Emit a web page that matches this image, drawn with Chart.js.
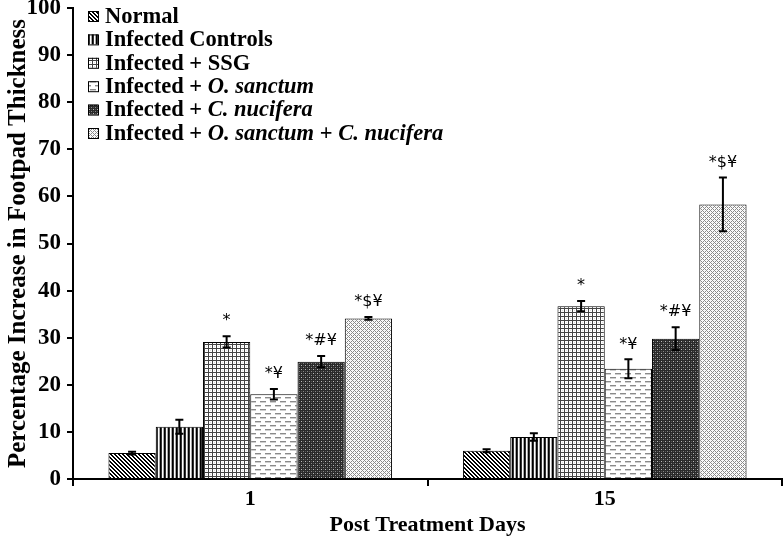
<!DOCTYPE html>
<html>
<head>
<meta charset="utf-8">
<script src="https://cdn.jsdelivr.net/npm/chart.js@4.4.1/dist/chart.umd.min.js"></script>
<style>
  html, body { margin: 0; padding: 0; background: #fff; }
  #wrap { width: 784px; height: 544px; }
</style>
</head>
<body>
<div id="wrap"><canvas id="chart1" width="784" height="544"></canvas></div>
<script>
// post treatment days
const days = ['1', '15'];

const seriesNames = [
  'Normal',
  'Infected Controls',
  'Infected + SSG',
  'Infected + O. sanctum',
  'Infected + C. nucifera',
  'Infected + O. sanctum + C. nucifera'
];

// mean % increase in footpad thickness
const normal = [5.5, 6.0];
const infectedControls = [11.1, 8.9];
const infectedSSG = [29.1, 36.7];
const infectedOS = [18.0, 23.4];
const infectedCN = [24.9, 29.8];
const infectedOSCN = [34.1, 58.3];

// error bars (+/-)
const normalErr = [0.3, 0.3];
const infectedControlsErr = [1.5, 0.8];
const infectedSSGErr = [1.2, 1.1];
const infectedOSErr = [1.1, 2.0];
const infectedCNErr = [1.2, 2.4];
const infectedOSCNErr = [0.3, 5.7];

// significance marks
const normalMarks = ['', ''];
const infectedControlsMarks = ['', ''];
const infectedSSGMarks = ['*', '*'];
const infectedOSMarks = ['*¥', '*¥'];
const infectedCNMarks = ['*#¥', '*#¥'];
const infectedOSCNMarks = ['*$¥', '*$¥'];

const yTicks = { min: 0, max: 100, step: 10 };

// ---- fill patterns ----
function makePattern(w, h, draw) {
  const c = document.createElement('canvas');
  c.width = w; c.height = h;
  const g = c.getContext('2d');
  g.fillStyle = '#fff';
  g.fillRect(0, 0, w, h);
  draw(g, w, h);
  return document.getElementById('chart1').getContext('2d').createPattern(c, 'repeat');
}
function px(g, x, y, col) { g.fillStyle = col; g.fillRect(x, y, 1, 1); }

const patterns = [
  // diagonal "\" stripes
  makePattern(4, 4, (g) => {
    for (let y = 0; y < 4; y++) for (let x = 0; x < 4; x++) {
      const d = ((x - y) % 4 + 4) % 4;
      if (d < 2) px(g, x, y, '#000');
    }
  }),
  // vertical stripes
  makePattern(4, 1, (g) => {
    px(g, 0, 0, '#000'); px(g, 1, 0, '#333'); px(g, 2, 0, '#fff'); px(g, 3, 0, '#aaa');
  }),
  // small grid
  makePattern(4, 4, (g) => {
    g.fillStyle = '#444';
    g.fillRect(0, 0, 4, 1);
    g.fillRect(0, 0, 1, 4);
    px(g, 2, 2, '#ddd');
  }),
  // light dashed horizontal
  makePattern(10, 8, (g) => {
    g.fillStyle = '#8a8a8a';
    g.fillRect(0, 1, 6, 1);
    g.fillRect(5, 5, 5, 1);
    g.fillRect(0, 5, 1, 1);
    g.fillStyle = '#d0d0d0';
    g.fillRect(0, 2, 6, 1);
    g.fillRect(5, 6, 5, 1);
    g.fillRect(0, 6, 1, 1);
  }),
  // dark dense checker
  makePattern(4, 4, (g) => {
    g.fillStyle = '#2a2a2a';
    g.fillRect(0, 0, 4, 4);
    px(g, 1, 1, '#bbb'); px(g, 3, 3, '#888'); px(g, 3, 1, '#555'); px(g, 1, 3, '#555');
  }),
  // light diagonal crosshatch
  makePattern(4, 4, (g) => {
    for (let y = 0; y < 4; y++) for (let x = 0; x < 4; x++) {
      if ((x + y) % 4 === 0 || ((x - y) % 4 + 4) % 4 === 0) px(g, x, y, '#8a8a8a');
      else if ((x + y) % 2 === 0) px(g, x, y, '#f2f2f2');
    }
  })
];

const values = [normal, infectedControls, infectedSSG, infectedOS, infectedCN, infectedOSCN];
const errs = [normalErr, infectedControlsErr, infectedSSGErr, infectedOSErr, infectedCNErr, infectedOSCNErr];
const marks = [normalMarks, infectedControlsMarks, infectedSSGMarks, infectedOSMarks, infectedCNMarks, infectedOSCNMarks];

const datasets = seriesNames.map((name, i) => ({
  label: name,
  data: values[i],
  errors: errs[i],
  marks: marks[i],
  backgroundColor: patterns[i],
  borderColor: '#000',
  borderWidth: 1,
  categoryPercentage: 0.8,
  barPercentage: 1.0
}));

const serif = "'Liberation Serif', 'Times New Roman', serif";

// error bars + significance marks
const errorBarPlugin = {
  id: 'errorBars',
  afterDatasetsDraw(chart) {
    const ctx = chart.ctx;
    const y = chart.scales.y;
    ctx.save();
    chart.data.datasets.forEach((ds, i) => {
      chart.getDatasetMeta(i).data.forEach((bar, j) => {
        const v = ds.data[j], e = ds.errors[j];
        const top = y.getPixelForValue(v + e);
        const bot = y.getPixelForValue(v - e);
        ctx.strokeStyle = '#000';
        ctx.lineWidth = 2;
        ctx.beginPath();
        ctx.moveTo(bar.x, top); ctx.lineTo(bar.x, bot);
        ctx.moveTo(bar.x - 4, top); ctx.lineTo(bar.x + 4, top);
        ctx.moveTo(bar.x - 4, bot); ctx.lineTo(bar.x + 4, bot);
        ctx.stroke();
        if (ds.marks[j]) {
          ctx.fillStyle = '#000';
          ctx.font = "16px 'DejaVu Sans', sans-serif";
          ctx.textAlign = 'center';
          ctx.textBaseline = 'middle';
          ctx.fillText(ds.marks[j], bar.x, top - 15);
        }
      });
    });
    ctx.restore();
  }
};

// legend with italic species names
const legendPlugin = {
  id: 'mixedLegend',
  afterDraw(chart) {
    const ctx = chart.ctx;
    const x0 = 88, y0 = 16, rowH = 23.4, box = 10;
    ctx.save();
    ctx.textBaseline = 'middle';
    ctx.textAlign = 'left';
    chart.data.datasets.forEach((ds, i) => {
      const cy = y0 + i * rowH;
      ctx.fillStyle = ds.backgroundColor;
      ctx.fillRect(x0, cy - box / 2, box, box);
      ctx.strokeStyle = '#000';
      ctx.lineWidth = 1;
      ctx.strokeRect(x0 + 0.5, cy - box / 2 + 0.5, box, box);
      let tx = 105;
      ds.label.split(/(O\. sanctum|C\. nucifera)/).forEach((part) => {
        if (!part) return;
        const ital = /sanctum|nucifera/.test(part);
        ctx.font = (ital ? 'italic ' : '') + 'bold 22.5px ' + serif;
        ctx.fillStyle = '#000';
        ctx.fillText(part, tx, cy + 1);
        tx += ctx.measureText(part).width;
      });
    });
    ctx.restore();
  }
};

new Chart(document.getElementById('chart1'), {
  type: 'bar',
  data: { labels: days, datasets: datasets },
  options: {
    responsive: false,
    animation: false,
    devicePixelRatio: 1,
    layout: { padding: { top: 8, right: 2, left: 0, bottom: 0 } },
    plugins: {
      legend: { display: false },
      tooltip: { enabled: false }
    },
    scales: {
      x: {
        afterFit(scale) { scale.height = 65; },
        grid: { display: true, drawOnChartArea: false, drawTicks: true, tickLength: 7, color: '#000', lineWidth: 2, offset: true },
        border: { color: '#000', width: 2 },
        ticks: { color: '#000', padding: 0, font: { family: serif, weight: 'bold', size: 22 } },
        title: { display: true, text: 'Post Treatment Days', color: '#000', padding: { top: 0, bottom: 5 }, font: { family: serif, weight: 'bold', size: 22 } }
      },
      y: {
        min: yTicks.min,
        max: yTicks.max,
        afterFit(scale) { scale.width = 73; scale.paddingTop = 0; scale.paddingBottom = 0; },
        grid: { display: true, drawOnChartArea: false, drawTicks: true, tickLength: 6, color: '#000', lineWidth: 2 },
        border: { color: '#000', width: 2 },
        ticks: { stepSize: yTicks.step, color: '#000', padding: 6, font: { family: serif, weight: 'bold', size: 23 } },
        title: { display: true, text: 'Percentage Increase in Footpad Thickness', color: '#000', padding: { top: 4, bottom: 0 }, font: { family: serif, weight: 'bold', size: 25 } }
      }
    }
  },
  plugins: [errorBarPlugin, legendPlugin]
});
</script>
</body>
</html>
